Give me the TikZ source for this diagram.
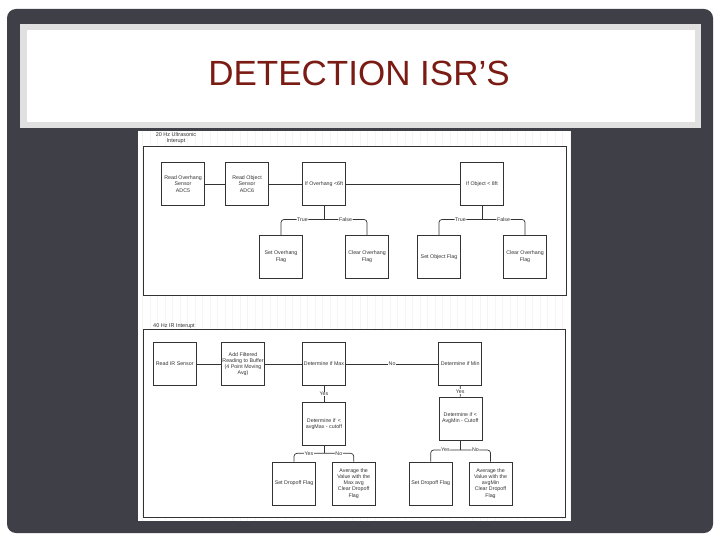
\documentclass[tikz,border=0pt]{standalone}
\usepackage{fontspec}
\setmainfont{Liberation Sans}
\definecolor{slidebg}{HTML}{3E3F47}
\definecolor{titlered}{HTML}{7B1C14}
\definecolor{lineclr}{HTML}{333333}
\tikzset{
  box/.style={draw=lineclr, line width=0.6pt, fill=white, minimum width=43pt, minimum height=43pt,
    align=center, inner sep=1pt, font=\fontsize{5.3}{6.2}\selectfont, text=black!80},
  conn/.style={draw=lineclr, line width=0.7pt},
  lbl/.style={fill=white, inner sep=0.6pt, font=\fontsize{5.3}{6.2}\selectfont, text=black!80},
  panel/.style={draw=lineclr, line width=0.6pt, fill=white},
}
\begin{document}
\begin{tikzpicture}[x=1pt,y=-1pt]
\useasboundingbox (0,0) rectangle (720,540);
\fill[white] (0,0) rectangle (720,540);
% slide background
\fill[slidebg, rounded corners=9pt] (7,9) rectangle (713,533);
% title frame
\fill[black!12] (20,24) rectangle (701,128);
\fill[white] (27,30) rectangle (695,122);
\node (title) at (359,73) {\fontsize{35}{40}\selectfont\color{titlered}DETECTION ISR’S};
% diagram image
\fill[white] (138,131) rectangle (571,521);
\draw[black!4, line width=0.25pt, step=7.5] (138,131) grid (571,521);
\draw[panel] (143,146) rectangle (566,295);
\draw[panel] (143,329) rectangle (565,517);
\node[font=\fontsize{5.5}{6.5}\selectfont, align=center, text=black!80, inner sep=0] (lab1) at (176,138) {20 Hz Ultrasonic\\Interupt};
\node[font=\fontsize{5.5}{6.5}\selectfont, anchor=base west, text=black!80, inner sep=0] (lab2) at (153,327.5) {40 Hz IR Interupt};

% top panel
\node[box] (ro)  at (183,184) {Read Overhang\\Sensor\\ADC5};
\node[box] (rob) at (247,184) {Read Object\\Sensor\\ADC6};
\node[box] (ifo) at (324,184) {If Overhang <6ft};
\node[box] (ifb) at (482,184) {If Object < 8ft};
\node[box] (sov) at (281,256.7) {Set Overhang\\Flag};
\node[box] (cov) at (367,256.7) {Clear Overhang\\Flag};
\node[box] (sob) at (439,256.7) {Set Object Flag};
\node[box] (cov2) at (525,256.7) {Clear Overhang\\Flag};
\draw[conn] (ro) -- (rob);
\draw[conn] (rob) -- (ifo);
\draw[conn] (ifo) -- (ifb);
\coordinate (j1) at (324,219.5);
\coordinate (j2) at (482,219.5);
\draw[conn] (ifo) -- (j1);
\draw[conn] (ifb) -- (j2);
\draw[conn, rounded corners=3pt] (j1) -| node[lbl, pos=0.25] {True} (sov);
\draw[conn, rounded corners=3pt] (j1) -| node[lbl, pos=0.25] {False} (cov);
\draw[conn, rounded corners=3pt] (j2) -| node[lbl, pos=0.25] {True} (sob);
\draw[conn, rounded corners=3pt] (j2) -| node[lbl, pos=0.25] {False} (cov2);

% bottom panel
\node[box] (rir)  at (174.7,364) {Read IR Sensor};
\node[box] (add)  at (243,364) {Add Filtered\\Reading to Buffer\\(4 Point Moving\\Avg)};
\node[box] (dmax) at (324,364) {Determine if Max};
\node[box] (dmin) at (460.2,364) {Determine if Min};
\node[box] (dlt)  at (324,424) {Determine if \,<\\avgMax - cutoff};
\node[box] (dlt2) at (460.3,418.5) {Determine if <\\AvgMin - Cutoff};
\node[box] (sdf)  at (294,483.3) {Set Dropoff Flag};
\node[box] (avg)  at (353.7,483.3) {Average the\\Value with the\\Max avg\\Clear Dropoff\\Flag};
\node[box] (sdf2) at (430.7,483.3) {Set Dropoff Flag};
\node[box] (avg2) at (490.5,483.3) {Average the\\Value with the\\avgMin\\Clear Dropoff\\Flag};
\draw[conn] (rir) -- (add);
\draw[conn] (add) -- (dmax);
\draw[conn] (dmax) -- node[lbl] {No} (dmin);
\draw[conn] (dmax) -- node[lbl] {Yes} (dlt);
\draw[conn] (dmin) -- node[lbl] {Yes} (dlt2);
\coordinate (j3) at (324,453.3);
\coordinate (j4) at (460.3,450);
\draw[conn] (dlt) -- (j3);
\draw[conn] (dlt2) -- (j4);
\draw[conn, rounded corners=3pt] (j3) -| node[lbl, pos=0.25] {Yes} (sdf);
\draw[conn, rounded corners=3pt] (j3) -| node[lbl, pos=0.25] {No} (avg);
\draw[conn, rounded corners=3pt] (j4) -| node[lbl, pos=0.25] {Yes} (sdf2);
\draw[conn, rounded corners=3pt] (j4) -| node[lbl, pos=0.25] {No} (avg2);
\end{tikzpicture}
\end{document}
